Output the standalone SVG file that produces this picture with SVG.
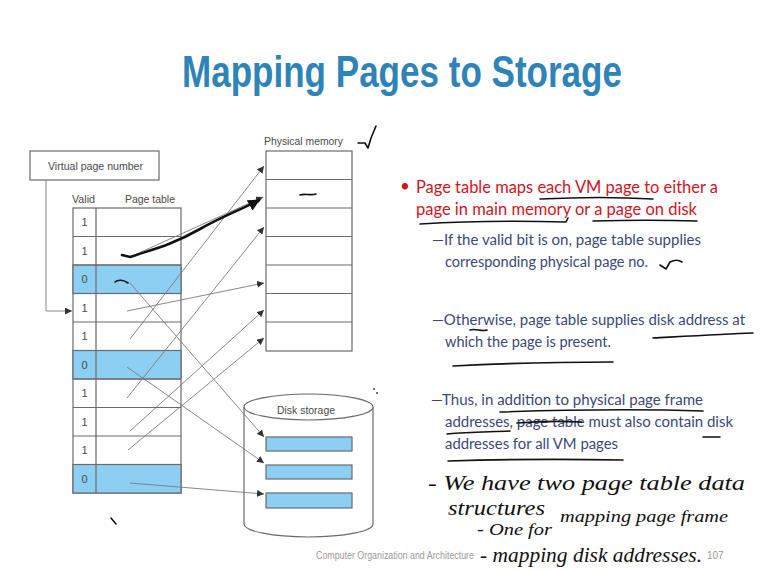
<svg xmlns="http://www.w3.org/2000/svg" width="767" height="571" viewBox="0 0 767 571">
  <defs>
    <marker id="arr" viewBox="0 0 10 10" refX="10" refY="5" markerWidth="7" markerHeight="7" markerUnits="userSpaceOnUse" orient="auto">
      <path d="M0,0 L10,5 L0,10 z" fill="#333"/>
    </marker>
    <marker id="arrInk" viewBox="0 0 10 10" refX="9" refY="5" markerWidth="12" markerHeight="12" markerUnits="userSpaceOnUse" orient="auto">
      <path d="M0,0 L10,5 L0,10 z" fill="#111"/>
    </marker>
    <style>
      .box { fill: #fff; stroke: #6a6a6a; stroke-width: 1.2; }
      .blue { fill: #8ccff3; stroke: #6a6a6a; stroke-width: 1.2; }
      .grid { stroke: #6a6a6a; stroke-width: 1.2; fill: none; }
      .lbl { font-family: "Liberation Sans", Arial, sans-serif; font-size: 11.5px; fill: #4a4a4a; }
      .dig { font-family: "Liberation Sans", Arial, sans-serif; font-size: 11px; fill: #4a4a4a; text-anchor: middle; }
      .conn { stroke: #7a7a7a; stroke-width: 0.9; fill: none; marker-end: url(#arr); }
      .red { font-family: Lato, "Open Sans", sans-serif; font-size: 17px; fill: #d0141e; }
      .sub { font-family: Lato, "Open Sans", sans-serif; font-size: 15.5px; fill: #3b4876; }
      .ink { stroke: #111; stroke-width: 1.6; fill: none; stroke-linecap: round; stroke-linejoin: round; }
      .hand { font-family: "Liberation Serif", "DejaVu Serif", serif; font-style: italic; font-size: 22px; fill: #111; }
      .hand2 { font-family: "Liberation Serif", "DejaVu Serif", serif; font-style: italic; font-size: 17px; fill: #111; }
      .hand3 { font-family: "Liberation Serif", "DejaVu Serif", serif; font-style: italic; font-size: 20px; fill: #111; }
      .foot { font-family: "Liberation Sans", Arial, sans-serif; font-size: 10px; fill: #9a9a9a; }
    </style>
  </defs>

  <rect width="767" height="571" fill="#fff"/>

  <!-- title -->
  <text x="182" y="87" font-family="'Liberation Sans', Arial, sans-serif" font-weight="bold" font-size="44" fill="#2e83b7" textLength="440" lengthAdjust="spacingAndGlyphs">Mapping Pages to Storage</text>

  <!-- virtual page number register -->
  <g id="vpn">
    <rect class="box" x="30" y="151" width="129" height="29"/>
    <text class="lbl" x="48" y="170" textLength="95" lengthAdjust="spacingAndGlyphs">Virtual page number</text>
  </g>

  <!-- page table -->
  <g id="page-table">
    <text class="lbl" x="72" y="203" textLength="23" lengthAdjust="spacingAndGlyphs">Valid</text>
    <text class="lbl" x="125" y="203" textLength="50" lengthAdjust="spacingAndGlyphs">Page table</text>
    <rect class="box" x="73" y="208" width="108" height="285"/>
    <rect class="blue" x="73" y="265" width="108" height="28.5"/>
    <rect class="blue" x="73" y="350.5" width="108" height="28.5"/>
    <rect class="blue" x="73" y="464.5" width="108" height="28.5"/>
    <path class="grid" d="M96,208 V493 M73,236.5 H181 M73,265 H181 M73,293.5 H181 M73,322 H181 M73,350.5 H181 M73,379 H181 M73,407.5 H181 M73,436 H181 M73,464.5 H181"/>
    <text class="dig" x="84.5" y="226">1</text>
    <text class="dig" x="84.5" y="255">1</text>
    <text class="dig" x="84.5" y="283">0</text>
    <text class="dig" x="84.5" y="312">1</text>
    <text class="dig" x="84.5" y="340">1</text>
    <text class="dig" x="84.5" y="369">0</text>
    <text class="dig" x="84.5" y="397">1</text>
    <text class="dig" x="84.5" y="426">1</text>
    <text class="dig" x="84.5" y="454">1</text>
    <text class="dig" x="84.5" y="483">0</text>
  </g>

  <!-- physical memory -->
  <g id="physical-memory">
    <text class="lbl" x="264" y="145" textLength="79" lengthAdjust="spacingAndGlyphs">Physical memory</text>
    <rect class="box" x="266" y="151" width="86" height="200"/>
    <path class="grid" d="M266,179.5 H352 M266,208 H352 M266,236.5 H352 M266,265 H352 M266,293.5 H352 M266,322 H352"/>
  </g>

  <!-- disk storage -->
  <g id="disk-storage">
    <path class="box" d="M244,407 V524 A64.5,13 0 0 0 373,524 V407"/>
    <ellipse class="box" cx="308.5" cy="407" rx="64.5" ry="13"/>
    <text class="lbl" x="277" y="414" textLength="58" lengthAdjust="spacingAndGlyphs">Disk storage</text>
    <rect class="blue" x="266" y="437" width="86" height="14"/>
    <rect class="blue" x="266" y="465" width="86" height="14"/>
    <rect class="blue" x="266" y="493" width="86" height="15"/>
  </g>

  <!-- mappings from page table entries -->
  <g id="connectors">
    <path class="conn" d="M46,180 V311 H72"/>
    <path class="conn" d="M130,257 L263,197"/>
    <path class="conn" d="M130,283 L264,437"/>
    <path class="conn" d="M127,311 L264,283"/>
    <path class="conn" d="M130,339 L264,166"/>
    <path class="conn" d="M127,367 L264,463"/>
    <path class="conn" d="M127,398 L264,227"/>
    <path class="conn" d="M130,431 L264,310"/>
    <path class="conn" d="M128,450 L264,338"/>
    <path class="conn" d="M130,483 L264,494"/>
  </g>

  <!-- text bullets -->
  <g id="notes">
    <text x="400" y="192" font-family="Lato, sans-serif" font-size="17" fill="#d0141e">•</text>
    <text class="red" x="416" y="193" textLength="302" lengthAdjust="spacingAndGlyphs">Page table maps each VM page to either a</text>
    <text class="red" x="416" y="215" textLength="281" lengthAdjust="spacingAndGlyphs">page in main memory or a page on disk</text>
    <text class="sub" x="432" y="245" textLength="269" lengthAdjust="spacingAndGlyphs">—If the valid bit is on, page table supplies</text>
    <text class="sub" x="445" y="267" textLength="203" lengthAdjust="spacingAndGlyphs">corresponding physical page no.</text>
    <text class="sub" x="432" y="325" textLength="313" lengthAdjust="spacingAndGlyphs">—Otherwise, page table supplies disk address at</text>
    <text class="sub" x="445" y="347" textLength="166" lengthAdjust="spacingAndGlyphs">which the page is present.</text>
    <text class="sub" x="431" y="405" textLength="272" lengthAdjust="spacingAndGlyphs">—Thus, in addition to physical page frame</text>
    <text class="sub" x="445" y="427" textLength="288" lengthAdjust="spacingAndGlyphs">addresses, page table must also contain disk</text>
    <text class="sub" x="445" y="449" textLength="173" lengthAdjust="spacingAndGlyphs">addresses for all VM pages</text>
  </g>

  <!-- pen annotations -->
  <g id="ink">
    <path d="M122,255 L130,257 C150,250 170,246 200,229 C225,215 245,208 259,200" stroke="#111" stroke-width="2.6" fill="none" stroke-linecap="round" marker-end="url(#arrInk)"/>
    <path class="ink" d="M358,143 L365,143 L368,148 L371,138 L376,126"/>
    <path class="ink" d="M300,195 C305,193 310,196 316,194"/>
    <path class="ink" stroke-width="3" d="M115,282 C118,279 124,280 128,283"/>
    <path class="ink" d="M111,518 L116,524"/>
    <circle cx="374" cy="389" r="0.9" fill="#333"/>
    <circle cx="377" cy="393" r="0.9" fill="#333"/>
    <path class="ink" d="M540,199 C580,197 620,197 653,199"/>
    <path class="ink" d="M420,224 C470,221 530,221 566,222 L568,218"/>
    <path class="ink" d="M593,221 C630,220 665,220 697,221"/>
    <path class="ink" d="M660,265 L666,269 L670,262 C674,260 679,260 682,262"/>
    <path class="ink" d="M470,330 C476,328 481,332 487,330"/>
    <path class="ink" d="M653,338 C690,336 725,334 753,333"/>
    <path class="ink" d="M453,366 C510,363 570,362 613,362"/>
    <path class="ink" d="M500,412 C560,410 640,409 703,411"/>
    <path class="ink" d="M447,434 C470,432 490,432 510,431"/>
    <path class="ink" d="M517,423 C540,421 560,421 582,422"/>
    <path class="ink" d="M703,437 L720,437"/>
    <path class="ink" d="M448,461 C510,459 570,459 623,460"/>
    <text class="hand" x="428" y="490" textLength="317" lengthAdjust="spacingAndGlyphs">- We have two page table data</text>
    <text class="hand" x="448" y="515" textLength="97" lengthAdjust="spacingAndGlyphs">structures</text>
    <text class="hand2" x="477" y="535" textLength="75" lengthAdjust="spacingAndGlyphs">- One for</text>
    <text class="hand2" x="560" y="522" textLength="168" lengthAdjust="spacingAndGlyphs">mapping page frame</text>
    <text class="hand3" x="480" y="562" textLength="222" lengthAdjust="spacingAndGlyphs">- mapping disk addresses.</text>
  </g>

  <!-- footer -->
  <text class="foot" x="316" y="559" textLength="158" lengthAdjust="spacingAndGlyphs">Computer Organization and Architecture</text>
  <text class="foot" x="707" y="559">107</text>
</svg>
